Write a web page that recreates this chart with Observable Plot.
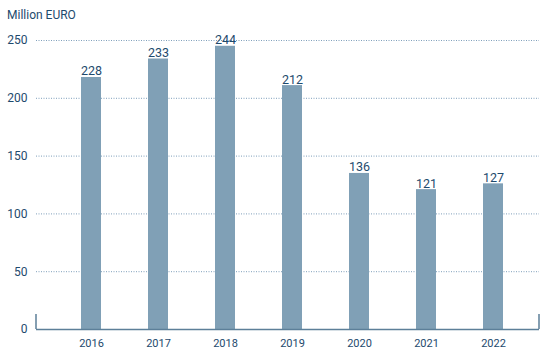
<!DOCTYPE html>
<html><head><meta charset="utf-8">
<script src="https://cdn.jsdelivr.net/npm/d3@7"></script>
<script src="https://cdn.jsdelivr.net/npm/@observablehq/plot@0.6"></script>
<style>
body{margin:0;background:#fff;font-family:Roboto,sans-serif;}
#title{height:28px;box-sizing:border-box;padding:8px 0 0 7px;font-size:12px;line-height:14px;color:#1e4a6d;}
</style></head><body>
<div id="title">Million EURO</div>
<div id="chart"></div>
<script>
const years = ["2016","2017","2018","2019","2020","2021","2022"];
const barValues = [218, 234, 245, 211, 135, 121, 126];
const labels = ["228","233","244","212","136","121","127"];
const yTicks = [0, 50, 100, 150, 200, 250];

const data = years.map((year, i) => ({year, value: barValues[i], label: labels[i]}));
const ink = "#1e4a6d";

const plot = Plot.plot({
  width: 547, height: 333,
  marginTop: 12, marginBottom: 32, marginLeft: 36, marginRight: 8,
  style: {fontFamily: "Roboto", fontSize: "12px", color: ink, background: "#fff"},
  x: {type: "band", domain: years, range: [30, 554], padding: 0.706},
  y: {domain: [0, 250]},
  marks: [
    Plot.ruleY(yTicks.filter(d => d > 0), {stroke: "#7f9fbb", strokeDasharray: "1,1.5", strokeWidth: 1}),
    Plot.barY(data, {x: "year", y: "value", fill: "#80a0b6"}),
    Plot.ruleY([0], {stroke: "#5c7f99", strokeWidth: 1.5}),
    Plot.text(data, {x: "year", y: "value", text: "label", textAnchor: "middle", dy: -6, fill: ink, fontSize: 12.5}),
    Plot.axisY({ticks: yTicks, tickSize: 0, tickPadding: 9, fontSize: 12, label: null, fill: ink}),
    Plot.axisX({tickSize: 0, tickPadding: 10, fontSize: 11, label: null, fill: ink})
  ]
});

const y0 = plot.scale("y").apply(0);
const svg = d3.select(plot);
[36, 539].forEach(xp => {
  svg.append("line").attr("x1", xp).attr("x2", xp).attr("y1", y0 - 15).attr("y2", y0)
    .attr("stroke", "#5c7f99").attr("stroke-width", 1.5);
});
document.getElementById("chart").appendChild(plot);
</script>
</body></html>
